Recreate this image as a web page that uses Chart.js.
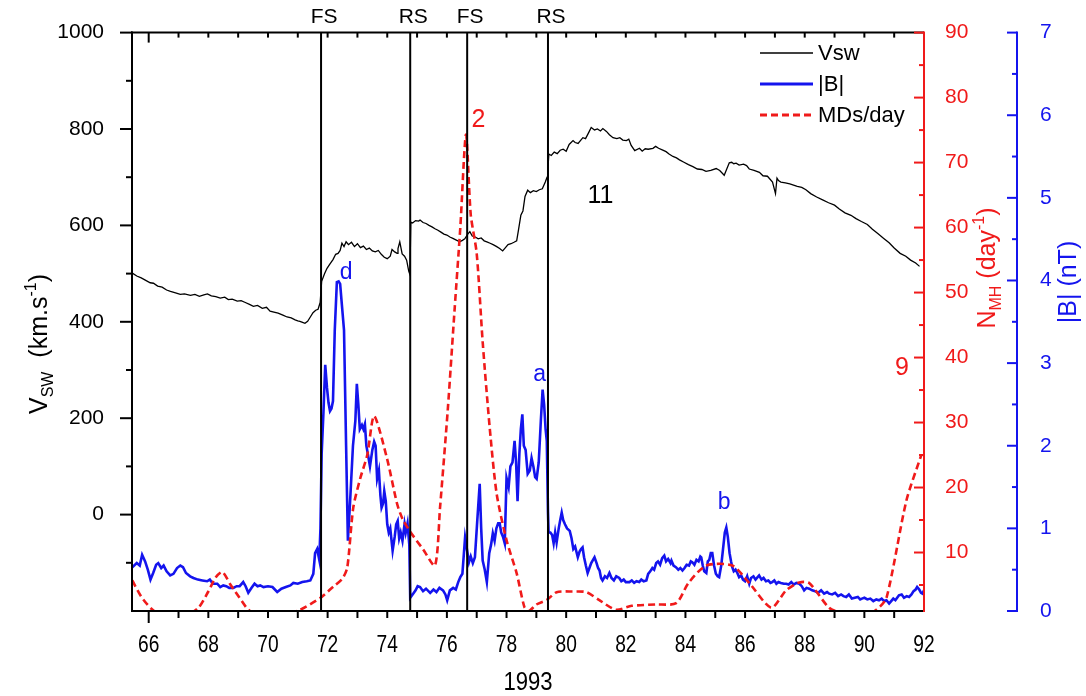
<!DOCTYPE html>
<html>
<head>
<meta charset="utf-8">
<script src="https://cdn.jsdelivr.net/npm/chart.js@4.4.1/dist/chart.umd.min.js"></script>
<style>
  html, body { margin: 0; padding: 0; background: #fff; }
  #wrap { width: 1086px; height: 696px; }
</style>
</head>
<body>
<div id="wrap"><canvas id="c" width="1086" height="696"></canvas></div>
<script>
// Day of year 1993 (x) for every series
const vswDays = [65.45,65.6,65.75,65.9,66.05,66.16,66.3,66.45,66.6,66.73,66.9,67.06,67.2,67.4,67.55,67.7,67.85,67.97,68.1,68.25,68.4,68.55,68.67,68.8,68.97,69.1,69.24,69.38,69.51,69.65,69.81,69.95,70.07,70.2,70.34,70.5,70.64,70.78,70.91,71.0,71.07,71.16,71.24,71.33,71.42,71.51,71.6,71.68,71.75,71.8,71.9,71.98,72.08,72.18,72.27,72.35,72.42,72.48,72.55,72.62,72.7,72.8,72.9,73.0,73.1,73.2,73.3,73.4,73.5,73.6,73.7,73.8,73.9,74.0,74.1,74.16,74.25,74.33,74.36,74.42,74.5,74.58,74.65,74.72,74.76,74.79,74.85,74.95,75.05,75.1,75.2,75.3,75.4,75.5,75.6,75.7,75.8,75.9,76.0,76.1,76.2,76.3,76.43,76.52,76.6,76.7,76.77,76.85,76.95,77.05,77.15,77.25,77.34,77.45,77.55,77.67,77.77,77.87,77.95,78.05,78.15,78.25,78.34,78.4,78.48,78.55,78.62,78.71,78.8,78.9,79.0,79.1,79.2,79.3,79.36,79.39,79.42,79.5,79.6,79.7,79.8,79.9,80.0,80.1,80.23,80.3,80.4,80.56,80.65,80.75,80.84,80.95,81.05,81.15,81.23,81.35,81.45,81.57,81.7,81.8,81.9,82.02,82.1,82.18,82.3,82.46,82.55,82.65,82.75,82.91,83.0,83.1,83.24,83.35,83.45,83.58,83.7,83.8,83.95,84.1,84.25,84.4,84.55,84.69,84.85,85.03,85.15,85.3,85.47,85.55,85.62,85.7,85.8,85.95,86.05,86.14,86.3,86.48,86.6,86.75,86.92,87.02,87.07,87.09,87.12,87.2,87.35,87.5,87.6,87.75,87.9,88.04,88.2,88.4,88.6,88.8,89.0,89.16,89.35,89.55,89.72,89.9,90.1,90.27,90.45,90.65,90.83,91.0,91.2,91.39,91.55,91.72,91.85,92.0];
const vswValues = [501,495,491,486,481,480,474,472,466,463,460,457,458,455,457,453,456,458,454,452,449,451,446,447,443,444,440,436,432,434,428,430,422,420,418,414,410,408,404,402,401,399,397,401,410,419,424,426,440,484,500,511,520,529,540,542,548,563,556,566,560,565,556,562,554,557,550,553,547,545,548,540,534,531,536,550,545,542,552,566,541,536,528,505,498,607,605,610,609,611,606,604,600,597,593,590,586,582,580,576,573,570,566,569,572,582,587,578,576,572,574,568,566,563,560,556,552,547,553,560,562,565,568,590,621,630,660,673,668,672,670,674,676,690,700,720,748,745,752,749,756,758,754,768,776,772,770,782,780,792,803,798,800,796,801,795,788,782,780,782,777,776,779,766,755,760,754,759,758,760,764,760,756,753,748,743,740,736,731,726,722,717,716,712,714,718,714,704,730,731,728,729,725,727,724,717,714,710,703,702,690,666,698,696,693,690,688,686,684,681,679,674,666,659,653,647,642,634,626,621,614,608,602,592,583,573,564,553,542,536,528,522,515];

const bDays = [65.45,65.6,65.7,65.78,65.88,65.97,66.06,66.15,66.25,66.32,66.42,66.5,66.6,66.72,66.83,66.95,67.06,67.15,67.25,67.39,67.5,67.65,67.8,67.96,68.05,68.15,68.3,68.4,68.5,68.6,68.7,68.84,68.95,69.05,69.17,69.25,69.34,69.45,69.55,69.65,69.74,69.85,70.0,70.15,70.31,70.45,70.6,70.75,70.85,71.0,71.15,71.3,71.42,71.52,71.58,71.65,71.72,71.76,71.8,71.86,71.92,71.98,72.03,72.08,72.13,72.18,72.24,72.31,72.37,72.42,72.48,72.55,72.62,72.68,72.75,72.85,72.93,72.98,73.03,73.08,73.15,73.2,73.25,73.3,73.35,73.42,73.5,73.56,73.61,73.66,73.72,73.77,73.81,73.86,73.9,73.95,74.0,74.05,74.1,74.18,74.25,74.3,74.35,74.4,74.45,74.51,74.58,74.62,74.68,74.74,74.77,74.85,74.95,75.02,75.1,75.2,75.3,75.44,75.55,75.65,75.75,75.87,75.95,76.01,76.1,76.21,76.3,76.38,76.45,76.52,76.61,76.67,76.74,76.8,76.87,76.94,77.02,77.1,77.15,77.2,77.27,77.34,77.42,77.48,77.54,77.6,77.66,77.72,77.77,77.82,77.88,77.94,78.0,78.07,78.13,78.2,78.27,78.32,78.37,78.43,78.48,78.53,78.58,78.64,78.71,78.78,78.84,78.9,78.96,79.01,79.08,79.15,79.21,79.26,79.31,79.35,79.39,79.41,79.47,79.53,79.58,79.63,79.68,79.75,79.8,79.85,79.9,79.96,80.03,80.12,80.18,80.24,80.3,80.39,80.45,80.5,80.55,80.6,80.66,80.72,80.78,80.84,80.9,80.95,81.02,81.07,81.12,81.17,81.22,81.3,81.37,81.45,81.52,81.6,81.68,81.78,81.85,81.93,82.0,82.12,82.2,82.28,82.36,82.45,82.52,82.6,82.69,82.75,82.82,82.89,82.95,83.02,83.08,83.15,83.22,83.29,83.35,83.42,83.5,83.53,83.6,83.68,83.76,83.83,83.9,83.97,84.04,84.12,84.18,84.23,84.3,84.37,84.44,84.5,84.53,84.58,84.63,84.7,84.75,84.8,84.85,84.9,84.96,85.02,85.08,85.13,85.2,85.26,85.32,85.37,85.42,85.48,85.53,85.57,85.62,85.68,85.74,85.8,85.87,85.93,86.0,86.07,86.14,86.2,86.28,86.35,86.42,86.47,86.55,86.62,86.7,86.78,86.85,86.91,86.98,87.05,87.12,87.2,87.3,87.38,87.46,87.55,87.63,87.72,87.82,87.9,87.98,88.06,88.15,88.25,88.35,88.45,88.55,88.65,88.75,88.82,88.92,89.02,89.12,89.22,89.3,89.39,89.48,89.58,89.68,89.78,89.86,89.92,90.0,90.1,90.2,90.3,90.4,90.49,90.58,90.66,90.74,90.83,90.9,90.97,91.04,91.1,91.16,91.25,91.33,91.42,91.5,91.58,91.65,91.72,91.77,91.84,91.9,91.95,92.0];
const bValues = [0.53,0.58,0.55,0.68,0.6,0.5,0.38,0.46,0.56,0.58,0.52,0.55,0.48,0.43,0.45,0.52,0.55,0.53,0.46,0.42,0.4,0.38,0.37,0.36,0.38,0.33,0.33,0.29,0.31,0.3,0.28,0.28,0.3,0.3,0.35,0.3,0.22,0.28,0.33,0.3,0.31,0.29,0.3,0.29,0.23,0.27,0.29,0.31,0.34,0.33,0.35,0.36,0.37,0.45,0.7,0.75,0.62,1.0,1.9,2.4,2.98,2.7,2.52,2.42,2.45,2.54,3.4,3.98,3.99,3.96,3.7,3.4,2.0,0.85,1.3,2.0,2.3,2.75,2.5,2.2,2.25,2.2,2.26,2.0,1.9,1.75,1.95,2.05,2.0,1.6,1.7,1.4,1.25,1.3,1.45,1.33,1.05,0.95,1.0,0.73,0.9,1.05,1.09,0.88,0.95,0.85,1.05,0.95,1.06,0.8,0.16,0.2,0.25,0.3,0.29,0.24,0.27,0.22,0.26,0.23,0.28,0.25,0.2,0.13,0.25,0.28,0.26,0.35,0.41,0.45,0.89,0.75,0.59,0.66,0.58,0.65,1.1,1.54,1.0,0.61,0.5,0.35,0.7,0.8,0.94,0.85,1.0,1.06,1.06,0.95,0.9,0.82,1.61,1.5,1.75,1.8,2.06,1.8,1.33,1.9,2.2,2.38,2.0,1.95,1.66,1.7,1.85,1.75,1.62,1.6,1.8,2.3,2.68,2.5,2.2,2.06,1.2,0.95,0.95,0.92,0.82,0.95,0.83,1.0,1.1,1.19,1.1,1.05,1.0,0.97,0.88,0.75,0.78,0.65,0.72,0.75,0.77,0.65,0.55,0.46,0.52,0.58,0.62,0.65,0.58,0.52,0.49,0.4,0.37,0.42,0.4,0.46,0.4,0.37,0.42,0.4,0.36,0.38,0.35,0.35,0.37,0.34,0.36,0.35,0.38,0.36,0.37,0.45,0.48,0.52,0.5,0.58,0.6,0.56,0.64,0.67,0.6,0.63,0.58,0.61,0.55,0.53,0.5,0.52,0.49,0.52,0.56,0.55,0.6,0.59,0.56,0.62,0.6,0.66,0.65,0.55,0.48,0.46,0.6,0.62,0.7,0.7,0.55,0.45,0.42,0.41,0.55,0.75,0.95,1.01,0.9,0.7,0.6,0.53,0.48,0.5,0.46,0.41,0.43,0.38,0.36,0.42,0.33,0.4,0.42,0.38,0.41,0.43,0.38,0.4,0.36,0.37,0.34,0.35,0.37,0.33,0.35,0.34,0.33,0.33,0.32,0.35,0.32,0.34,0.33,0.3,0.25,0.28,0.27,0.25,0.24,0.22,0.25,0.21,0.23,0.21,0.2,0.22,0.18,0.2,0.18,0.17,0.2,0.15,0.16,0.17,0.14,0.15,0.16,0.14,0.15,0.12,0.14,0.13,0.15,0.12,0.13,0.09,0.12,0.15,0.13,0.16,0.19,0.2,0.16,0.18,0.17,0.2,0.24,0.26,0.29,0.26,0.22,0.21,0.25];

const mdDays = [65.45,65.75,66.1,66.5,67.2,67.67,68.0,68.25,68.47,68.75,69.05,69.34,69.7,70.4,71.08,71.75,72.18,72.5,72.66,72.86,73.1,73.33,73.56,73.99,74.33,74.51,74.77,75.2,75.6,75.77,76.03,76.26,76.45,76.64,76.8,77.0,77.2,77.44,77.67,78.0,78.34,78.6,78.75,79.0,79.35,79.68,80.2,80.68,81.1,81.67,82.2,83.0,83.69,84.1,84.7,85.57,86.14,86.88,87.38,87.82,88.15,88.82,89.3,89.9,90.4,90.74,91.41,91.91];
const mdValues = [5.7,3.2,1.3,0.2,0.2,1.5,4.0,6.2,7.0,5.0,3.0,1.2,0.2,0.2,1.2,3.0,4.7,6.0,7.7,16.9,21.5,25.0,31.0,24.5,17.5,15.2,13.2,10.5,8.0,16.9,32.0,47.5,60.0,74.3,62.0,56.0,42.4,29.0,19.0,11.9,6.8,1.6,1.0,2.0,2.7,3.9,4.0,3.9,2.7,1.2,1.8,2.0,2.2,5.3,8.0,8.0,5.3,1.5,4.2,5.4,5.3,1.5,0.6,0.2,1.2,3.0,18.0,25.0];

// Shock crossings
const shockDays = [71.78, 74.77, 76.68, 79.39];
const shockLabels = ['FS', 'RS', 'FS', 'RS'];

// Tick labels
const xTicks = [66, 68, 70, 72, 74, 76, 78, 80, 82, 84, 86, 88, 90, 92];
const vTicks = [0, 200, 400, 600, 800, 1000];
const nTicks = [10, 20, 30, 40, 50, 60, 70, 80, 90];
const bTicks = [0, 1, 2, 3, 4, 5, 6, 7];

const RED = '#f01a1a';
const BLUE = '#1414ee';
const FONT = "'Liberation Sans', Arial, sans-serif";

Chart.defaults.font.family = FONT;

const toPoints = (xs, ys) => xs.map((d, i) => ({ x: d, y: ys[i] }));

// Draws a run of text pieces (sub/superscripts) centred on (cx, cy), optionally rotated
function richText(ctx, parts, cx, cy, rotate, color) {
    ctx.save();
    ctx.translate(cx, cy);
    if (rotate) ctx.rotate(-Math.PI / 2);
    ctx.fillStyle = color;
    ctx.textAlign = 'left';
    ctx.textBaseline = 'alphabetic';
    let total = 0;
    parts.forEach(p => {
        ctx.font = p.size + 'px ' + FONT;
        p.w = ctx.measureText(p.t).width;
        total += p.w;
    });
    let x = -total / 2;
    parts.forEach(p => {
        ctx.font = p.size + 'px ' + FONT;
        ctx.fillText(p.t, x, 9 + (p.dy || 0));
        x += p.w;
    });
    ctx.restore();
}

// Text squeezed horizontally, like the narrow face used on the time axis
function narrowText(ctx, text, cx, cy, size, squeeze) {
    ctx.save();
    ctx.translate(cx, cy);
    ctx.scale(squeeze, 1);
    ctx.font = size + 'px ' + FONT;
    ctx.textAlign = 'center';
    ctx.textBaseline = 'middle';
    ctx.fillText(text, 0, 0);
    ctx.restore();
}

function seg(ctx, x1, y1, x2, y2) {
    ctx.beginPath();
    ctx.moveTo(x1, y1);
    ctx.lineTo(x2, y2);
    ctx.stroke();
}

const framePlugin = {
    id: 'frame',
    afterDatasetsDraw(chart) {
        const { ctx, chartArea: a, scales } = chart;
        const x = scales.x, y = scales.y, yN = scales.yN, yB = scales.yB;
        ctx.save();
        ctx.lineCap = 'butt';

        // shock lines
        ctx.strokeStyle = '#000';
        ctx.lineWidth = 2;
        shockDays.forEach(d => {
            const px = x.getPixelForValue(d);
            seg(ctx, px, a.top, px, a.bottom);
        });

        // black frame: left, top, bottom
        seg(ctx, a.left, a.top - 1, a.left, a.bottom + 1);
        seg(ctx, a.left - 1, a.top, a.right, a.top);
        seg(ctx, a.left - 1, a.bottom, a.right, a.bottom);

        // x ticks: every day, outward at the bottom and inward at the top
        for (let d = 66; d <= 91; d++) {
            const px = x.getPixelForValue(d);
            seg(ctx, px, a.bottom, px, a.bottom + (d === 66 ? 12 : 7));
            seg(ctx, px, a.top, px, a.top + (d === 66 ? 10 : 5));
        }

        // x tick labels and title
        ctx.fillStyle = '#000';
        xTicks.forEach(v => narrowText(ctx, String(v), x.getPixelForValue(v), 645, 24, 0.8));
        narrowText(ctx, '1993', (a.left + a.right) / 2, 683, 26, 0.85);

        // left axis ticks (outward)
        for (let v = -100; v <= 1000; v += 100) {
            const py = y.getPixelForValue(v);
            seg(ctx, a.left, py, a.left - (v % 200 === 0 ? 12 : 6), py);
        }

        // red axis (right border of the plot), ticks inward
        ctx.strokeStyle = RED;
        seg(ctx, a.right, a.top - 1, a.right, a.bottom + 1);
        for (let v = 5; v <= 90; v += 5) {
            const py = yN.getPixelForValue(v);
            seg(ctx, a.right, py, a.right - (v % 10 === 0 ? 10 : 5), py);
        }

        // blue axis, ticks to the left
        ctx.strokeStyle = BLUE;
        const bx = yB.left;
        seg(ctx, bx, a.top - 1, bx, a.bottom + 1);
        for (let v = 0; v <= 7; v += 0.5) {
            const py = yB.getPixelForValue(v);
            seg(ctx, bx, py, bx - (v % 1 === 0 ? 10 : 5), py);
        }

        // shock labels above the frame
        ctx.fillStyle = '#000';
        ctx.font = '21px ' + FONT;
        ctx.textAlign = 'center';
        ctx.textBaseline = 'middle';
        shockDays.forEach((d, i) => {
            ctx.fillText(shockLabels[i], x.getPixelForValue(d) + 3, 17);
        });

        // event annotations
        ctx.font = '25px ' + FONT;
        ctx.fillStyle = RED;
        ctx.fillText('2', x.getPixelForValue(77.06), yN.getPixelForValue(76.5));
        ctx.fillText('9', x.getPixelForValue(91.26), yN.getPixelForValue(38.3));
        ctx.fillStyle = '#000';
        ctx.fillText('11', x.getPixelForValue(81.15), y.getPixelForValue(661));
        ctx.font = '23px ' + FONT;
        ctx.fillStyle = BLUE;
        ctx.fillText('d', x.getPixelForValue(72.62), yB.getPixelForValue(4.09));
        ctx.fillText('a', x.getPixelForValue(79.11), yB.getPixelForValue(2.86));
        ctx.fillText('b', x.getPixelForValue(85.30), yB.getPixelForValue(1.31));

        // legend
        const legend = [
            { t: 'Vsw', c: '#000', w: 1.5, dash: [] },
            { t: '|B|', c: BLUE, w: 3, dash: [] },
            { t: 'MDs/day', c: RED, w: 3, dash: [7, 4] }
        ];
        const ly = [53, 84, 115];
        ctx.textAlign = 'left';
        ctx.font = '22px ' + FONT;
        legend.forEach((l, i) => {
            ctx.strokeStyle = l.c;
            ctx.lineWidth = l.w;
            ctx.setLineDash(l.dash);
            seg(ctx, 760, ly[i], 813, ly[i]);
            ctx.setLineDash([]);
            ctx.fillStyle = '#000';
            ctx.fillText(l.t, 818, ly[i] + 1);
        });

        // axis titles
        richText(ctx, [
            { t: 'V', size: 25 }, { t: 'SW', size: 16, dy: 6 },
            { t: '  (km.s', size: 25 }, { t: '-1', size: 16, dy: -11 }, { t: ')', size: 25 }
        ], 38, 344, true, '#000');
        richText(ctx, [
            { t: 'N', size: 25 }, { t: 'MH', size: 16, dy: 6 },
            { t: ' (day', size: 25 }, { t: '-1', size: 16, dy: -11 }, { t: ')', size: 25 }
        ], 986, 268, true, RED);
        richText(ctx, [{ t: '|B| (nT)', size: 25 }], 1067, 282, true, BLUE);

        ctx.restore();
    }
};

const tickFont = { family: FONT, size: 21 };

new Chart(document.getElementById('c'), {
    type: 'line',
    data: {
        datasets: [
            {
                label: 'MDs/day',
                data: toPoints(mdDays, mdValues),
                yAxisID: 'yN',
                borderColor: RED,
                borderWidth: 2.6,
                borderDash: [7, 4],
                tension: 0.25,
                pointRadius: 0,
                order: 1
            },
            {
                label: '|B|',
                data: toPoints(bDays, bValues),
                yAxisID: 'yB',
                borderColor: BLUE,
                borderWidth: 2.6,
                pointRadius: 0,
                order: 2
            },
            {
                label: 'Vsw',
                data: toPoints(vswDays, vswValues),
                yAxisID: 'y',
                borderColor: '#000',
                borderWidth: 1.3,
                pointRadius: 0,
                order: 3
            }
        ]
    },
    options: {
        responsive: false,
        animation: false,
        events: [],
        layout: { padding: { left: 0, right: 0, top: 28, bottom: 0 } },
        plugins: { legend: { display: false }, tooltip: { enabled: false } },
        scales: {
            x: {
                type: 'linear',
                position: 'bottom',
                min: 65.44,
                max: 92,
                grid: { display: false },
                border: { display: false },
                afterBuildTicks: s => { s.ticks = xTicks.map(v => ({ value: v })); },
                afterFit: s => { s.height = 85; },
                // labels are drawn squeezed by the frame plugin
                ticks: { display: false }
            },
            y: {
                type: 'linear',
                position: 'left',
                min: -200,
                max: 1000,
                grid: { display: false },
                border: { display: false },
                afterBuildTicks: s => { s.ticks = vTicks.map(v => ({ value: v })); },
                afterFit: s => { s.width = 132; },
                ticks: { padding: 20, color: '#000', font: tickFont, callback: v => String(v) }
            },
            yN: {
                type: 'linear',
                position: 'right',
                weight: 0,
                min: 1,
                max: 90,
                grid: { display: false },
                border: { display: false },
                afterBuildTicks: s => { s.ticks = nTicks.map(v => ({ value: v })); },
                afterFit: s => { s.width = 93; },
                ticks: { padding: 13, color: RED, font: tickFont, callback: v => String(v) }
            },
            yB: {
                type: 'linear',
                position: 'right',
                weight: 1,
                min: 0,
                max: 7,
                grid: { display: false },
                border: { display: false },
                afterBuildTicks: s => { s.ticks = bTicks.map(v => ({ value: v })); },
                afterFit: s => { s.width = 69; },
                ticks: { padding: 15, color: BLUE, font: tickFont, callback: v => String(v) }
            }
        }
    },
    plugins: [framePlugin]
});
</script>
</body>
</html>
